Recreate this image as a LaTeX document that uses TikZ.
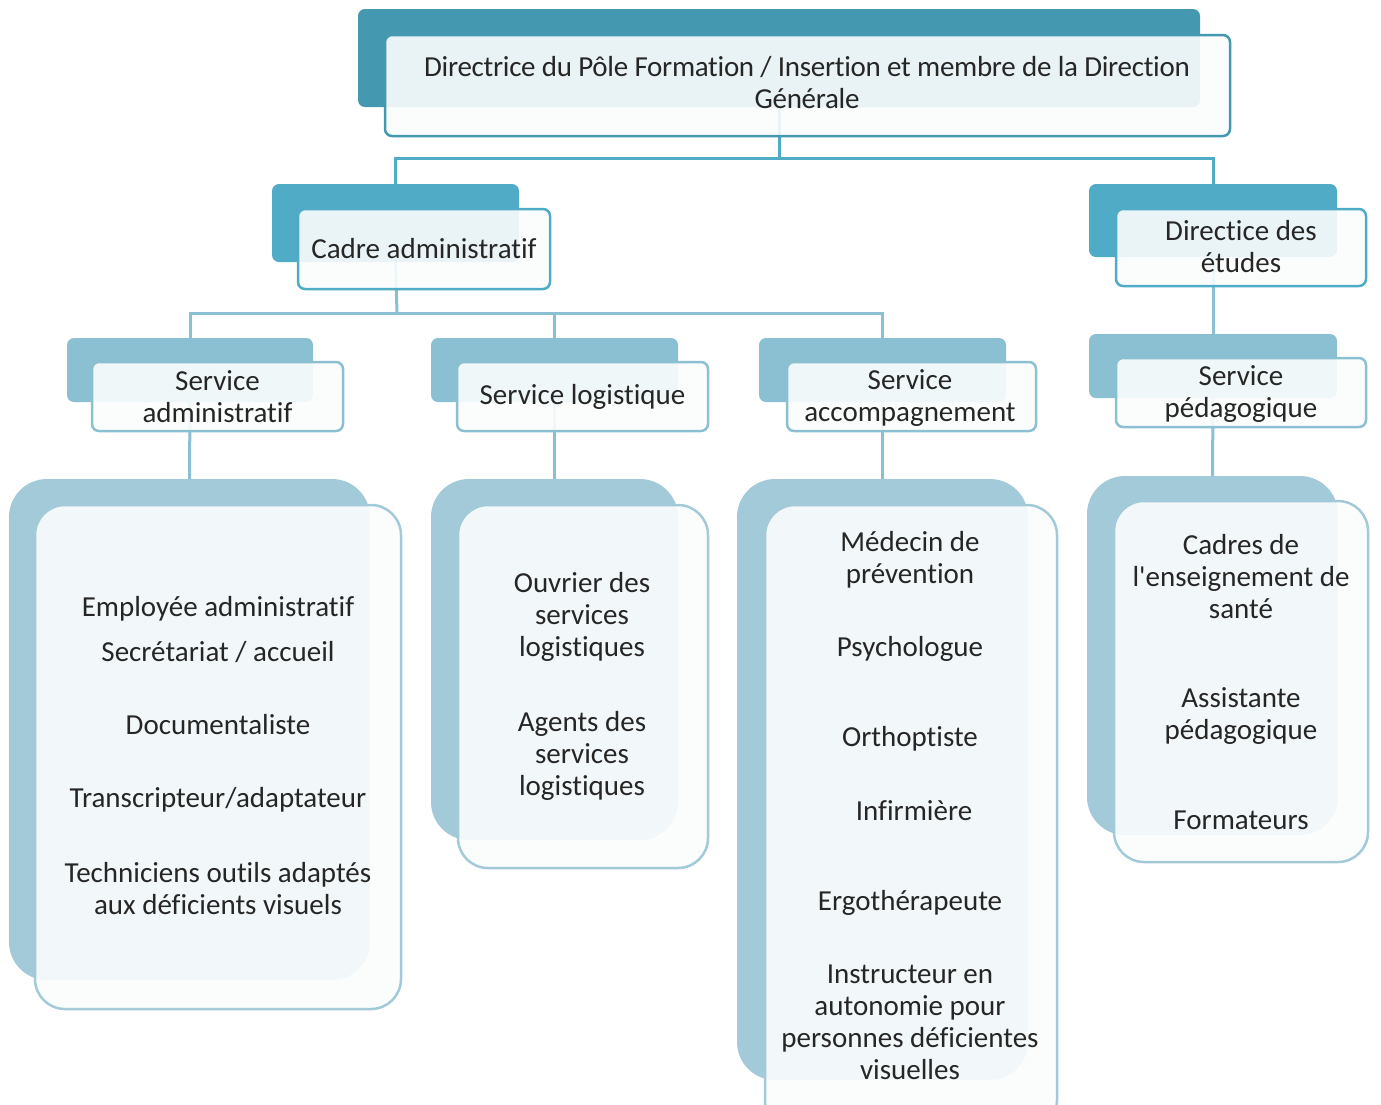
\documentclass[tikz,border=0pt]{standalone}
\usepackage{fontspec}
\newfontfamily\mainf[Ligatures=NoCommon]{Carlito}
\newfontfamily\titlefont[Ligatures=NoCommon,LetterSpace=-1]{Carlito}
\definecolor{cA}{HTML}{4499B0}
\definecolor{cB}{HTML}{4FABC6}
\definecolor{cC}{HTML}{8BC0D2}
\definecolor{cD}{HTML}{A2CAD8}
\definecolor{txt}{HTML}{262626}
\definecolor{frontfill}{HTML}{FBFDFD}
\newcommand\rb[7]{\node[#1, minimum width={(#5-#3)*1pt}, minimum height={(#6-#4)*1pt}] (#2) at ({(#3+#5)/2},{(#4+#6)/2}) {#7};}
\begin{document}
\begin{tikzpicture}[x=1pt,y=-1pt,
  every node/.style={inner sep=0pt, outer sep=0pt, text=txt, align=center, font=\mainf\fontsize{29}{32}\selectfont},
  backbox/.style={rectangle, rounded corners=7pt, fill=#1},
  frontbox/.style={rectangle, rounded corners=7pt, draw=#1, line width=2.5pt, fill=frontfill, fill opacity=0.9, text opacity=1, draw opacity=1},
  bigback/.style={rectangle, rounded corners=38pt, fill=cD},
  bigfront/.style={rectangle, rounded corners=30pt, draw=cD, line width=2.5pt, fill=frontfill, fill opacity=0.9, text opacity=1, draw opacity=1},
  conA/.style={draw=cB, line width=3pt},
  conB/.style={draw=cC, line width=3pt},
  item/.style={text=txt}
]
\useasboundingbox (0,0) rectangle (1381,1104);
% coordinates for junctions
\coordinate (j0) at (779,158);
\coordinate (j1) at (397,313);
% back boxes
\rb{backbox=cA}{tb}{358}{9}{1200}{107}{}
\rb{backbox=cB}{cb}{272}{184}{519}{262}{}
\rb{backbox=cB}{db}{1089}{184}{1337}{257}{}
\rb{backbox=cC}{sab}{67}{338}{313}{402}{}
\rb{backbox=cC}{slb}{431}{338}{678}{402}{}
\rb{backbox=cC}{scb}{759}{338}{1006}{402}{}
\rb{backbox=cC}{spb}{1089}{334}{1337}{398}{}
\rb{bigback}{bab}{9}{479}{370}{980}{}
\rb{bigback}{blb}{431}{479}{678}{840}{}
\rb{bigback}{bcb}{737}{479}{1028}{1080}{}
\rb{bigback}{bpb}{1087}{476}{1338}{835}{}
% connectors (behind front boxes)
\draw[conA] (tb.south) -- (j0);
\draw[conA] (cb.north) |- (j0) -| (db.north);
\draw[conB] (cb.south) -- (j1);
\draw[conB] (sab.north) |- (j1) -| (scb.north);
\draw[conB] (slb.north) -- (slb.north |- j1);
\draw[conB] (db.south) -- (spb.north);
\draw[conB] (sab.south) -- (bab.north);
\draw[conB] (slb.south) -- (blb.north);
\draw[conB] (scb.south) -- (bcb.north);
\draw[conB] (spb.south) -- (bpb.north);
% front boxes
\rb{frontbox=cA}{tf}{385}{35}{1230}{136}{}
\node (tt) at (807,83) {\titlefont\fontsize{29}{32}\selectfont Directrice du Pôle Formation / Insertion et membre de la Direction\\\titlefont\fontsize{29}{32}\selectfont Générale};
\rb{frontbox=cB}{cf}{298}{209}{550}{289}{Cadre administratif}
\rb{frontbox=cB}{df}{1116}{209}{1366}{286}{}
\node (dt) at (1241,247) {Directice des\\études};
\rb{frontbox=cC}{saf}{92}{362}{343}{431}{Service\\administratif}
\rb{frontbox=cC}{slf}{457}{362}{708}{431}{Service logistique}
\rb{frontbox=cC}{scf}{787}{362}{1036}{431}{}
\node (st) at (910,398) {Service\\accompagnement};
\rb{frontbox=cC}{spf}{1116}{358}{1366}{427}{}
\node (pt) at (1241,394) {Service\\pédagogique};
\rb{bigfront}{baf}{35}{505}{401}{1009}{}
\rb{bigfront}{blf}{458}{505}{708}{868}{}
\rb{bigfront}{bcf}{765}{505}{1057}{1130}{}
\rb{bigfront}{bpf}{1114}{501}{1368}{862}{}
% items: administratif
\node[item] (a1) at (218,609) {Employée administratif};
\node[item] (a2) at (218,652) {Secrétariat / accueil};
\node[item] (a3) at (218,725) {Documentaliste};
\node[item] (a4) at (218,800) {Transcripteur/adaptateur};
\node[item] (a5) at (218,889) {Techniciens outils adaptés\\aux déficients visuels};
% logistique
\node[item] (l1) at (582,617) {Ouvrier des\\services\\logistiques};
\node[item] (l2) at (582,756) {Agents des\\services\\logistiques};
% accompagnement
\node[item] (c1) at (910,560) {Médecin de\\prévention};
\node[item] (c2) at (910,649) {Psychologue};
\node[item] (c3) at (910,739) {Orthoptiste};
\node[item] (c4) at (914,811) {Infirmière};
\node[item] (c5) at (910,903) {Ergothérapeute};
\node[item] (c6) at (910,1022) {Instructeur en\\autonomie pour\\personnes déficientes\\visuelles};
% pedagogique
\node[item] (p1) at (1241,577) {Cadres de\\l'enseignement de\\santé};
\node[item] (p2) at (1241,716) {Assistante\\pédagogique};
\node[item] (p3) at (1241,820) {Formateurs};
\end{tikzpicture}
\end{document}
